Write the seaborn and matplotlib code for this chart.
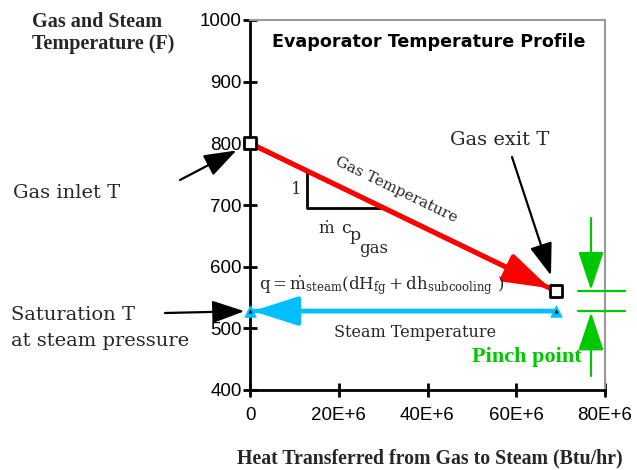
import matplotlib
matplotlib.use("Agg")
import matplotlib.pyplot as plt
import seaborn as sns
import pandas as pd
import numpy as np

# ---------------- data ----------------
gas_heat = [0, 69e6]          # Btu/hr
gas_temp = [800, 560]         # F
steam_heat = [0, 69e6]
steam_temp = [528, 528]
x_ticks = [0, 20e6, 40e6, 60e6, 80e6]
x_tick_labels = ["0", "20E+6", "40E+6", "60E+6", "80E+6"]
y_ticks = [400, 500, 600, 700, 800, 900, 1000]

sns.set_theme(style="white")
plt.rcParams['font.family'] = ['Liberation Sans', 'DejaVu Sans']
plt.rcParams['mathtext.fontset'] = 'dejavuserif'

W, H = 637, 470
fig = plt.figure(figsize=(W / 100, H / 100), dpi=100)
ax = fig.add_axes([250 / W, 1 - 390 / H, 355 / W, 370 / H])
ax.set_xlim(0, 80e6)
ax.set_ylim(400, 1000)

def fp(x, y):
    """pixel (from top-left) -> figure pixels"""
    return (x, H - y)

def dp(x, y):
    """pixel (from top-left) -> data coords"""
    return ((x - 250) / 355 * 80e6, 1000 - (y - 20) / 370 * 600)

RED = "#ff0000"
CYAN = "#00bfff"
GREEN = "#00c800"

gas_df = pd.DataFrame({"heat": gas_heat, "temp": gas_temp})
steam_df = pd.DataFrame({"heat": steam_heat, "temp": steam_temp})

sns.lineplot(data=gas_df, x="heat", y="temp", color=RED, lw=3.5, ax=ax, zorder=3)
sns.lineplot(data=steam_df, x="heat", y="temp", color=CYAN, lw=3.2, ax=ax, zorder=3)

# arrow heads
ax.annotate("", xy=(gas_heat[1], gas_temp[1]), xytext=(gas_heat[0], gas_temp[0]),
            arrowprops=dict(arrowstyle="-|>,head_length=2.8,head_width=0.9",
                            mutation_scale=10, color=RED, lw=3.5,
                            shrinkA=0, shrinkB=5), zorder=3)
ax.annotate("", xy=(steam_heat[0], steam_temp[0]), xytext=(steam_heat[1], steam_temp[1]),
            arrowprops=dict(arrowstyle="-|>,head_length=2.8,head_width=0.9",
                            mutation_scale=10, color=CYAN, lw=3.2,
                            shrinkA=0, shrinkB=2), zorder=3)

# markers
sns.scatterplot(x=[gas_heat[0], gas_heat[1]], y=[gas_temp[0], gas_temp[1]], marker="s",
                s=80, facecolor="white", edgecolor="black", linewidth=2, ax=ax,
                zorder=5, clip_on=False)
sns.scatterplot(x=steam_heat, y=steam_temp, marker="^", s=70, color=CYAN,
                edgecolor=CYAN, linewidth=0.5, ax=ax, zorder=5, clip_on=False)
sns.scatterplot(x=steam_heat, y=steam_temp, marker="^", s=8, color="black",
                edgecolor="black", linewidth=0, ax=ax, zorder=6, clip_on=False)

# axes styling
for s in ["left", "bottom"]:
    ax.spines[s].set_color("black")
    ax.spines[s].set_linewidth(2)
for s in ["top", "right"]:
    ax.spines[s].set_color("#999999")
    ax.spines[s].set_linewidth(1.5)
ax.set_xticks(x_ticks)
ax.set_xticklabels(x_tick_labels)
ax.set_yticks(y_ticks)
ax.set_yticklabels([str(v) for v in y_ticks])
ax.tick_params(axis="both", direction="inout", length=10, width=2, color="black",
               labelsize=13.5, labelcolor="black", left=True, bottom=True)
ax.tick_params(axis="y", pad=1)
ax.tick_params(axis="x", pad=7)
ax.set_xlabel("")
ax.set_ylabel("")

# title inside plot
ax.text(*dp(429, 42), "Evaporator Temperature Profile", ha="center", va="center",
        fontsize=12.6, fontweight="bold", family="DejaVu Sans", color="black")

# axis labels
fig.text(32 / W, 1 - 12 / H, "Gas and Steam\nTemperature (F)", ha="left", va="top",
         fontsize=14.5, fontweight="bold", family="Liberation Serif", linespacing=1.1)
fig.text(430 / W, 1 - 458 / H, "Heat Transferred from Gas to Steam (Btu/hr)",
         ha="center", va="center", fontsize=14.3, fontweight="bold",
         family="Liberation Serif")

SERIF = "DejaVu Serif"
black_arrow = dict(arrowstyle="-|>,head_length=2.0,head_width=0.7", mutation_scale=10,
                   color="black", lw=1.6, shrinkA=0)

# Gas inlet T
fig.text(13 / W, 1 - 193 / H, "Gas inlet T", ha="left", va="center", fontsize=14,
         family=SERIF)
ax.annotate("", xy=(gas_heat[0], gas_temp[0]), xytext=fp(180, 180),
            textcoords="figure pixels", annotation_clip=False,
            arrowprops=dict(black_arrow, shrinkB=11))

# Gas exit T
ax.text(*dp(500, 140), "Gas exit T", ha="center", va="center", fontsize=14,
        family=SERIF)
ax.annotate("", xy=(gas_heat[1], gas_temp[1]), xytext=fp(512, 157),
            textcoords="figure pixels", annotation_clip=False,
            arrowprops=dict(black_arrow, shrinkB=12))

# Saturation T
fig.text(11 / W, 1 - 328 / H, "Saturation T\nat steam pressure", ha="left",
         va="center", fontsize=14, family=SERIF, linespacing=1.6)
ax.annotate("", xy=(steam_heat[0], steam_temp[0]), xytext=fp(165, 313),
            textcoords="figure pixels", annotation_clip=False,
            arrowprops=dict(black_arrow, shrinkB=4))

# Gas temperature label along line
p0 = ax.transData.transform((gas_heat[0], gas_temp[0]))
p1 = ax.transData.transform((gas_heat[1], gas_temp[1]))
ang = np.degrees(np.arctan2(p1[1] - p0[1], p1[0] - p0[0]))
ax.text(*dp(396, 190), "Gas Temperature", rotation=ang, rotation_mode="anchor",
        ha="center", va="center", fontsize=11, family=SERIF)

# slope triangle
slope = (gas_temp[1] - gas_temp[0]) / (gas_heat[1] - gas_heat[0])
x_a = dp(307, 0)[0]
y_top = gas_temp[0] + slope * (x_a - gas_heat[0])
y_bot = dp(0, 208)[1]
x_b = gas_heat[0] + (y_bot - gas_temp[0]) / slope
ax.plot([x_a, x_a, x_b], [y_top, y_bot, y_bot], color="black", lw=2, zorder=2)
ax.text(*dp(296, 190), "1", ha="center", va="center", fontsize=12, family=SERIF)
ax.text(*dp(318, 233), "\u1e41", ha="left", va="baseline", fontsize=12, family=SERIF)
ax.text(*dp(341, 233), "c", ha="left", va="baseline", fontsize=12.5, family=SERIF)
ax.text(*dp(350, 240), "p", ha="left", va="baseline", fontsize=12.5, family=SERIF)
ax.text(*dp(359, 253), "gas", ha="left", va="baseline", fontsize=12, family=SERIF)

# heat duty equation
ax.text(*dp(259, 286),
        r"$\mathrm{q = \dot{m}_{steam}(dH_{fg}+ dh_{subcooling}\ )}$",
        ha="left", va="center", fontsize=12)

# steam temperature label
ax.text(*dp(415, 332), "Steam Temperature", ha="center", va="center",
        fontsize=11.5, family=SERIF)

# pinch point indication
xg = dp(591, 0)[0]
xl0, xl1 = dp(578, 0)[0], dp(625, 0)[0]
for yv in [gas_temp[1], steam_temp[0]]:
    ax.plot([xl0, xl1], [yv, yv], color=GREEN, lw=1.6, clip_on=False, zorder=4)
green_arrow = dict(arrowstyle="-|>,head_length=2.4,head_width=0.8", mutation_scale=10,
                   color=GREEN, lw=1.6, shrinkA=0, shrinkB=1)
ax.annotate("", xy=(xg, gas_temp[1]), xytext=(xg, dp(0, 218)[1]),
            annotation_clip=False, arrowprops=green_arrow)
ax.annotate("", xy=(xg, steam_temp[0]), xytext=(xg, dp(0, 376)[1]),
            annotation_clip=False, arrowprops=green_arrow)
ax.text(*dp(582, 357), "Pinch point", ha="right", va="center", fontsize=16,
        fontweight="bold", family="Liberation Serif", color=GREEN)

fig.savefig("out.png", dpi=100)
